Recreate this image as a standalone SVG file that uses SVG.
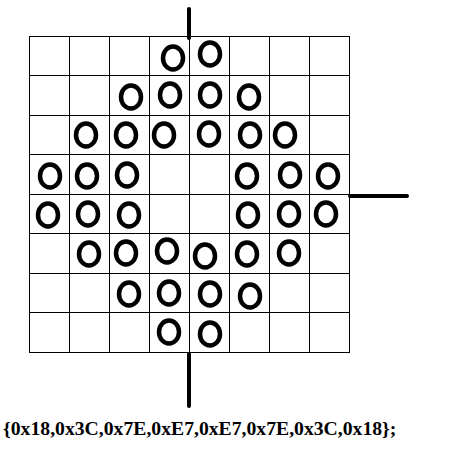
<svg xmlns="http://www.w3.org/2000/svg" width="454" height="462" viewBox="0 0 454 462">
<style>
.g{stroke:#000;stroke-width:1;fill:none}
.o{stroke:#000;stroke-width:4.5;fill:none}
.t{stroke:#000;stroke-width:4;stroke-linecap:round}
.txt{font-family:"Liberation Serif","Times New Roman",serif;font-weight:bold;font-size:19.7px;fill:#000}
</style>
<rect x="0" y="0" width="454" height="462" fill="#fff"/>
<g id="grid" class="g">
<rect x="29.5" y="36.5" width="320" height="316"/>
<path d="M69.5 36.5V352.5M109.5 36.5V352.5M149.5 36.5V352.5M189.5 36.5V352.5M229.5 36.5V352.5M269.5 36.5V352.5M309.5 36.5V352.5"/>
<path d="M29.5 75.5H349.5M29.5 115.5H349.5M29.5 154.5H349.5M29.5 194.5H349.5M29.5 233.5H349.5M29.5 273.5H349.5M29.5 312.5H349.5"/>
</g>
<g id="dots" class="o">
<ellipse cx="173" cy="58" rx="10" ry="11.5"/>
<ellipse cx="210" cy="54" rx="10" ry="11.5"/>
<ellipse cx="131" cy="97" rx="10" ry="11.5"/>
<ellipse cx="170" cy="95" rx="10" ry="11.5"/>
<ellipse cx="210" cy="95" rx="10" ry="11.5"/>
<ellipse cx="249" cy="97" rx="10" ry="11.5"/>
<ellipse cx="86" cy="135" rx="10" ry="11.5"/>
<ellipse cx="126" cy="135" rx="10" ry="11.5"/>
<ellipse cx="164" cy="135" rx="10" ry="11.5"/>
<ellipse cx="209" cy="134" rx="10" ry="11.5"/>
<ellipse cx="250" cy="135" rx="10" ry="11.5"/>
<ellipse cx="285" cy="135" rx="10" ry="11.5"/>
<ellipse cx="50" cy="176" rx="10" ry="11.5"/>
<ellipse cx="87" cy="176" rx="10" ry="11.5"/>
<ellipse cx="127" cy="175" rx="10" ry="11.5"/>
<ellipse cx="247" cy="176" rx="10" ry="11.5"/>
<ellipse cx="290" cy="175" rx="10" ry="11.5"/>
<ellipse cx="328" cy="176" rx="10" ry="11.5"/>
<ellipse cx="48" cy="215" rx="10" ry="11.5"/>
<ellipse cx="88" cy="214" rx="10" ry="11.5"/>
<ellipse cx="129" cy="215" rx="10" ry="11.5"/>
<ellipse cx="248" cy="215" rx="10" ry="11.5"/>
<ellipse cx="289" cy="214" rx="10" ry="11.5"/>
<ellipse cx="326" cy="214" rx="10" ry="11.5"/>
<ellipse cx="89" cy="254" rx="10" ry="11.5"/>
<ellipse cx="126" cy="253" rx="10" ry="11.5"/>
<ellipse cx="167" cy="251" rx="10" ry="11.5"/>
<ellipse cx="205" cy="256" rx="10" ry="11.5"/>
<ellipse cx="247" cy="254" rx="10" ry="11.5"/>
<ellipse cx="289" cy="253" rx="10" ry="11.5"/>
<ellipse cx="129" cy="294" rx="10" ry="11.5"/>
<ellipse cx="169" cy="293" rx="10" ry="11.5"/>
<ellipse cx="210" cy="294" rx="10" ry="11.5"/>
<ellipse cx="250" cy="296" rx="10" ry="11.5"/>
<ellipse cx="169" cy="332" rx="10" ry="11.5"/>
<ellipse cx="210" cy="334" rx="10" ry="11.5"/>
</g>
<g id="ticks" class="t">
<line x1="189" y1="9" x2="189" y2="38"/>
<line x1="350" y1="196" x2="407" y2="196"/>
<line x1="189" y1="354" x2="189" y2="406"/>
</g>
<text class="txt" x="3" y="435">{0x18,0x3C,0x7E,0xE7,0xE7,0x7E,0x3C,0x18};</text>
</svg>
